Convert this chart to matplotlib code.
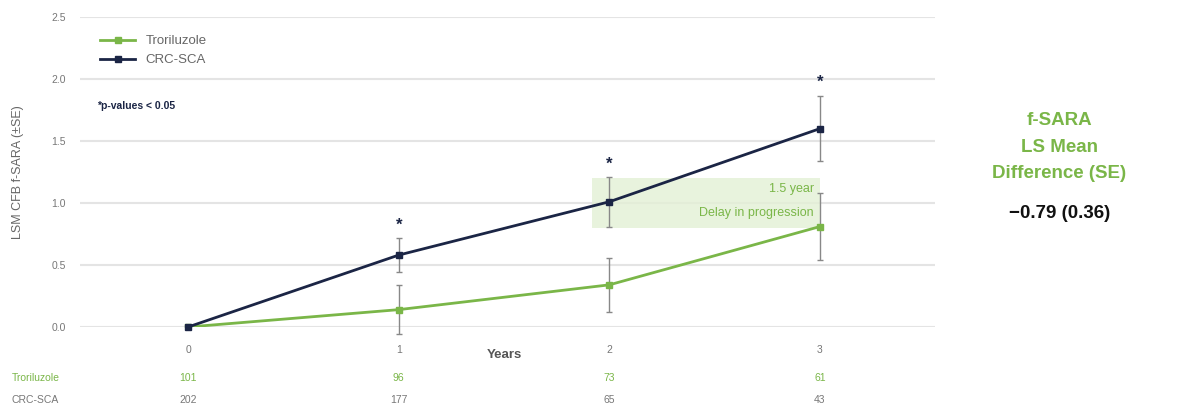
import matplotlib
matplotlib.use("Agg")
import matplotlib.pyplot as plt

plt.rcParams["font.family"] = ["Liberation Sans", "DejaVu Sans"]

# data
years = [0, 1, 2, 3]
tick_labels = ["0", "1", "2", "3"]
trori_mean = [0.0, 0.14, 0.34, 0.81]
trori_se = [0.0, 0.20, 0.22, 0.27]
crc_mean = [0.0, 0.58, 1.01, 1.60]
crc_se = [0.0, 0.14, 0.20, 0.26]
sig_years = [1, 2, 3]
sig_y = [0.82, 1.31, 1.97]
n_trori = [101, 96, 73, 61]
n_crc = [202, 177, 65, 43]
yticks = [0.0, 0.5, 1.0, 1.5, 2.0, 2.5]

green = "#7ab648"
navy = "#1b2545"
grey = "#777777"

fig = plt.figure(figsize=(11.85, 4.12), dpi=100)
ax = fig.add_axes([0.0675, 0.2063, 0.7215, 0.7524])

# grid
for y in yticks:
    ax.axhline(y, color="#e4e4e4", lw=1.5, zorder=0)

# shaded delay band
ax.fill_between([1.92, 3.0], 0.8, 1.2, color="#e3f0d5", alpha=0.8, lw=0, zorder=1)
ax.text(2.97, 1.11, "1.5 year", ha="right", va="center", color=green, fontsize=9)
ax.text(2.97, 0.92, "Delay in progression", ha="right", va="center", color=green, fontsize=9)

# error bars
ax.errorbar(years, trori_mean, yerr=trori_se, fmt="none", ecolor="#888888",
            elinewidth=1, capsize=2, zorder=2, clip_on=False)
ax.errorbar(years, crc_mean, yerr=crc_se, fmt="none", ecolor="#888888",
            elinewidth=1, capsize=2, zorder=2, clip_on=False)

ax.plot(years, trori_mean, color=green, marker="s", ms=4, lw=2, label="Troriluzole", zorder=3)
ax.plot(years, crc_mean, color=navy, marker="s", ms=4, lw=2, label="CRC-SCA", zorder=4,
        clip_on=False)

for x, y in zip(sig_years, sig_y):
    ax.text(x, y, "*", ha="center", va="center", color=navy, fontsize=12, fontweight="bold")

ax.set_xlim(-0.513, 3.546)
ax.set_ylim(0, 2.5)
ax.set_yticks(yticks)
ax.set_yticklabels([f"{v:.1f}" for v in yticks])
ax.set_xticks(years)
ax.set_xticklabels(tick_labels)
ax.tick_params(length=0, labelsize=7.5, colors=grey)
ax.tick_params(axis="x", pad=13)
ax.tick_params(axis="y", pad=10)
for s in ax.spines.values():
    s.set_visible(False)

ax.set_ylabel("LSM CFB f-SARA (±SE)", fontsize=9, color="#666666", labelpad=20)
ax.text(1.5, -0.07, "Years", transform=ax.get_xaxis_transform(), ha="center",
        va="top", fontsize=9.5, fontweight="bold", color="#555555")

ax.legend(loc="upper left", bbox_to_anchor=(0.01, 0.98), frameon=False,
          fontsize=9.5, handlelength=2.6, labelcolor="#666666")

ax.text(-0.43, 1.78, "*p-values < 0.05", fontsize=7.5, color=navy, fontweight="bold",
        va="center")

# numbers at risk
trans = matplotlib.transforms.blended_transform_factory(ax.transData, fig.transFigure)
fig.text(0.01, 1 - 378 / 412, "Troriluzole", color=green, fontsize=7.5, va="center")
fig.text(0.01, 1 - 400 / 412, "CRC-SCA", color=grey, fontsize=7.5, va="center")
for x, a, b in zip(years, n_trori, n_crc):
    ax.text(x, 1 - 378 / 412, str(a), transform=trans, ha="center", va="center",
            color=green, fontsize=7.5)
    ax.text(x, 1 - 400 / 412, str(b), transform=trans, ha="center", va="center",
            color=grey, fontsize=7.5)

# right side summary
fig.text(0.894, 1 - 147 / 412, "f-SARA\nLS Mean\nDifference (SE)", ha="center",
         va="center", color=green, fontsize=13.5, fontweight="bold", linespacing=1.75)
fig.text(0.894, 1 - 214 / 412, "\u22120.79 (0.36)", ha="center", va="center",
         color="#111111", fontsize=13.5, fontweight="bold")

fig.savefig("out.png", dpi=100)
